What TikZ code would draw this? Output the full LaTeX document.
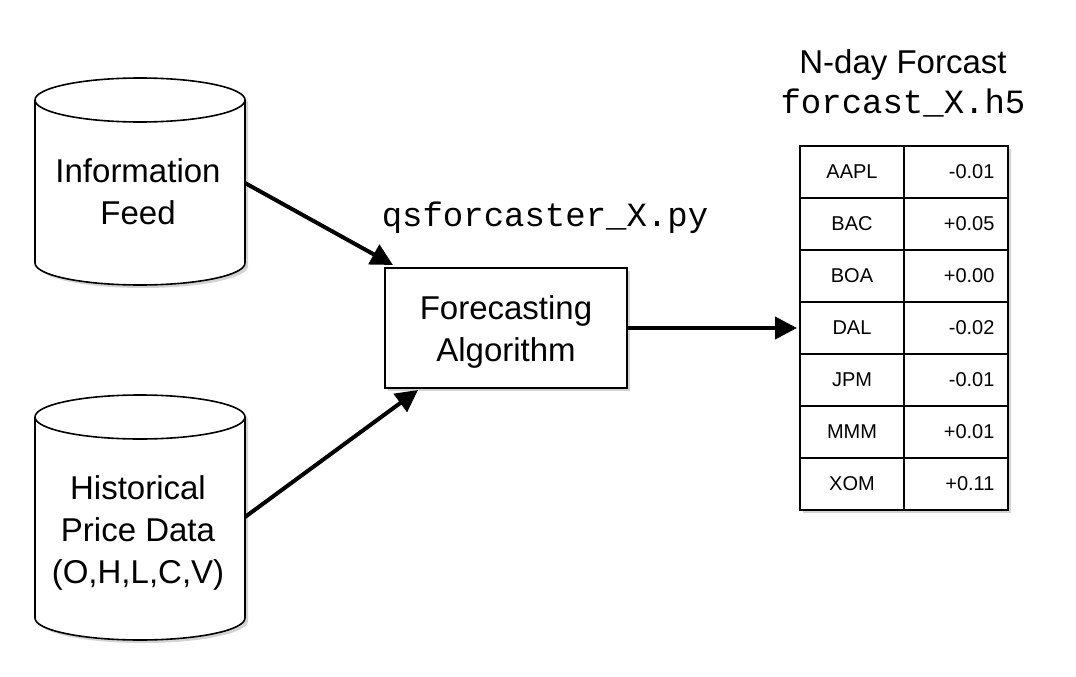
\documentclass[tikz,border=0pt]{standalone}
\usepackage{fontspec}
\setmainfont{Liberation Sans}
\setmonofont{Liberation Mono}
\usetikzlibrary{arrows.meta,shadows}
\begin{document}
\begin{tikzpicture}[x=1pt,y=-1pt,
  big/.style={font=\fontsize{33}{42}\selectfont,align=center},
  mono/.style={font=\ttfamily\fontsize{34}{40}\selectfont},
  cell/.style={font=\fontsize{20}{22}\selectfont},
  arr/.style={line width=4pt,-{Triangle[length=22pt,width=22pt]}},
  edge/.style={line width=1.6pt},
  shad/.style={drop shadow={shadow xshift=3pt,shadow yshift=-3pt,opacity=.35}}]
\useasboundingbox (0,0) rectangle (1076,677);
% cylinders
\foreach \n/\t/\b in {c1/78/285, c2/395/640}{
  \fill[white,shad] (35,\t+22) -- (35,\b-22) arc[start angle=180,end angle=0,x radius=105,y radius=22] -- (245,\t+22) arc[start angle=0,end angle=-180,x radius=105,y radius=22] -- cycle;
  \draw[edge] (35,\t+22) -- (35,\b-22) arc[start angle=180,end angle=0,x radius=105,y radius=22] -- (245,\t+22);
  \draw[edge] (140,\t+22) ellipse[x radius=105,y radius=22];
  \coordinate (\n) at (140,\t);
}
\node[big] (info) at (138,192) {Information\\Feed};
\node[big] (hist) at (138,533) {Historical\\Price Data\\(O,H,L,C,V)};
\coordinate (iR) at (245,183);
\coordinate (hR) at (245,517);
% algorithm box
\node[draw,edge,fill=white,shad,minimum width=242pt,minimum height=120pt,inner sep=0pt] (alg) at (506,328) {};
\node[big] (algt) at (506,332) {Forecasting\\Algorithm};
\node[mono] (py) at (545,218) {qsforcaster\_X.py};
% table
\node[big] (title) at (903,65) {N-day Forcast};
\node[mono] (h5) at (903,103) {forcast\_X.h5};
\fill[white,shad] (800,146) rectangle (1008,510);
\draw[edge] (800,146) rectangle (1008,510);
\draw[edge] (904,146) -- (904,510);
\foreach \i in {1,...,6}{\draw[edge] (800,146+52*\i) -- (1008,146+52*\i);}
\foreach \s/\v [count=\i from 0] in {AAPL/-0.01,BAC/+0.05,BOA/+0.00,DAL/-0.02,JPM/-0.01,MMM/+0.01,XOM/+0.11}{
  \node[cell] (s\i) at (852,172+52*\i) {\s};
  \node[cell,anchor=east] (v\i) at (998,172+52*\i) {\v};
}
\coordinate (tL) at (797,328);
% arrows
\draw[arr] (iR) -- (393,265);
\draw[arr] (hR) -- (418,390);
\draw[arr] (alg.east) -- (tL);
\end{tikzpicture}
\end{document}
